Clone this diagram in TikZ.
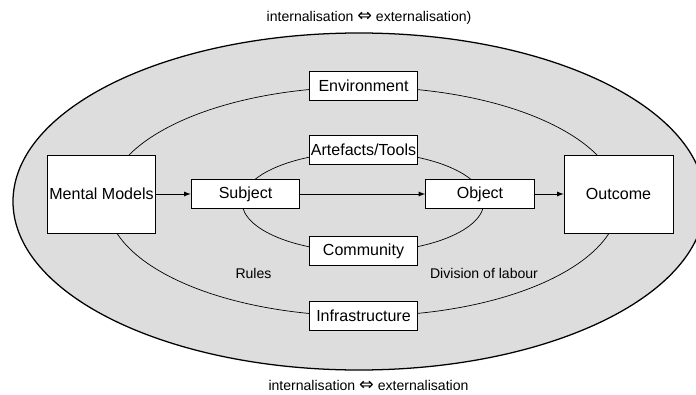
\documentclass[tikz,border=0pt]{standalone}
\usepackage{fontspec}
\setmainfont{Liberation Sans}
\newfontfamily\arrowfont{DejaVu Sans}
\begin{document}
\begin{tikzpicture}[x=0.025cm, y=-0.025cm, >=latex, font=\fontsize{11.4}{13}\selectfont,
    box/.style={draw, fill=white, line width=0.6pt, minimum width=2.72cm, minimum height=0.74cm, inner sep=1pt},
    bigbox/.style={box, minimum height=1.95cm},
    lbl/.style={font=\fontsize{10}{12}\selectfont}]
  \clip (0,0) rectangle (696,394);
  % layers of the activity system
  \draw[fill=gray!27, line width=0.9pt] (359,201.5) ellipse [x radius=346, y radius=168.5];
  \draw[line width=0.5pt] (363,201.5) ellipse [x radius=256, y radius=114.5];
  \draw[line width=0.5pt] (363,202) ellipse [x radius=121, y radius=50];
  % boxes
  \node[box] (env) at (363.5,86) {Environment};
  \node[box] (tools) at (363.5,150) {Artefacts/Tools};
  \node[box] (comm) at (363.5,251) {Community};
  \node[box] (infra) at (363.5,316) {Infrastructure};
  \node[bigbox] (models) at (101.5,194) {Mental Models};
  \node[box] (subj) at (245.5,194) {Subject};
  \node[box] (obj) at (480,194) {Object};
  \node[bigbox] (outc) at (618.5,194) {Outcome};
  % free labels
  \node[lbl] (rules) at (253.5,273) {Rules};
  \node[lbl] (labour) at (484,273) {Division of labour};
  \node[lbl] (toplbl) at (369,18) {internalisation {\arrowfont\fontsize{12.5}{12}\selectfont ⇔} externalisation)};
  \node[lbl] (botlbl) at (368.5,385) {internalisation {\arrowfont\fontsize{12.5}{12}\selectfont ⇔} externalisation};
  % flow
  \draw[->, line width=0.6pt] (models) -- (subj);
  \draw[->, line width=0.6pt] (subj) -- (obj);
  \draw[->, line width=0.6pt] (obj) -- (outc);
\end{tikzpicture}
\end{document}
